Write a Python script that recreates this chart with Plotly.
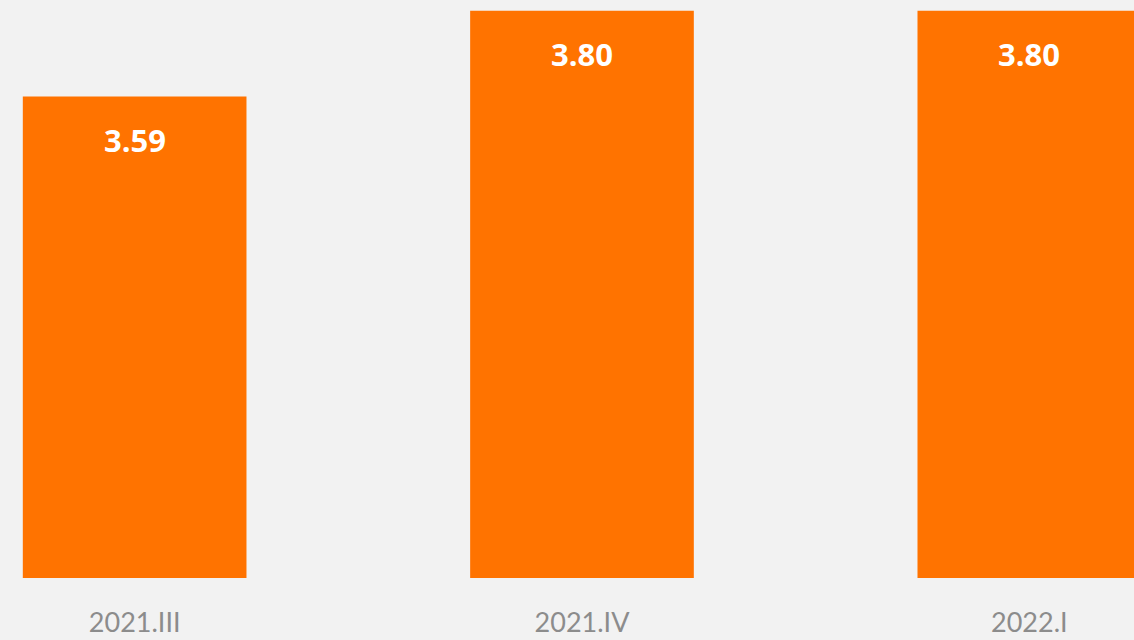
import plotly.graph_objects as go

# 季度與數值
quarters = ["2021.III", "2021.IV", "2022.I"]
values = [3.59, 3.80, 3.80]
value_labels = ["3.59", "3.80", "3.80"]

bar_color = "#FF7300"
bg_color = "#F2F2F2"
tick_color = "#8C8C8C"

fig = go.Figure()
fig.add_trace(go.Bar(
    x=[0, 1, 2],
    y=values,
    width=0.5,
    marker=dict(color=bar_color, line=dict(width=0)),
    hoverinfo="skip",
))

# 數值標籤放在柱子頂端下方
for i, (v, lab) in enumerate(zip(values, value_labels)):
    fig.add_annotation(
        x=i, y=v, text=f"<b>{lab}</b>", showarrow=False,
        yanchor="top", yshift=-20,
        font=dict(family="Open Sans, sans-serif", size=31, color="white"),
    )

fig.update_layout(
    width=1134,
    height=640,
    margin=dict(l=0, r=0, t=0, b=62),
    paper_bgcolor=bg_color,
    plot_bgcolor=bg_color,
    showlegend=False,
    xaxis=dict(
        range=[-0.301, 2.234],
        tickmode="array",
        tickvals=[0, 1, 2],
        ticktext=quarters,
        showgrid=False,
        zeroline=False,
        showline=False,
        ticks="",
        automargin=False,
        ticklabelstandoff=26,
        tickfont=dict(family="Lato, sans-serif", size=27, color=tick_color),
    ),
    yaxis=dict(
        range=[2.4116, 3.8262],
        visible=False,
        showgrid=False,
        zeroline=False,
        automargin=False,
    ),
)

# 去掉頁面預設邊距，讓圖貼齊視窗
fig.write_html(
    "out.html",
    config={"displayModeBar": False},
    post_script="document.body.style.margin='0';document.body.style.overflow='hidden';",
)
